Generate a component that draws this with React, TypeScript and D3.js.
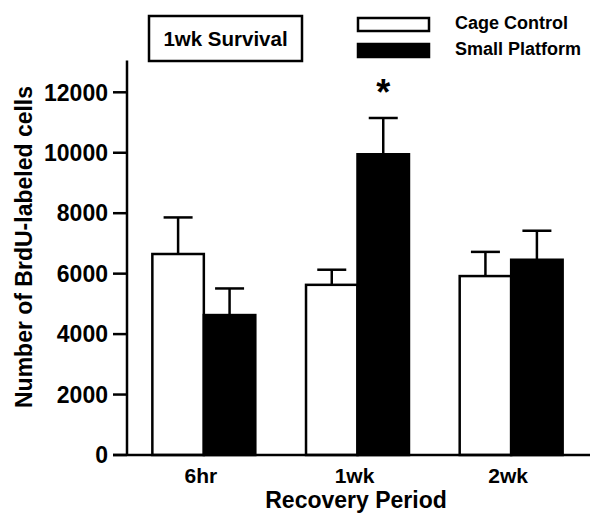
import { useRef, useEffect } from "react";
import * as d3 from "d3";

const periods = ["6hr", "1wk", "2wk"];
const seriesNames = ["Cage Control", "Small Platform"];
const cageMeans = [6650, 5630, 5920];
const cageSem = [1210, 500, 800];
const platformMeans = [4630, 9950, 6460];
const platformSem = [880, 1200, 960];
const yTicks = [0, 2000, 4000, 6000, 8000, 10000, 12000];
const significant = [false, true, false];

const FONT = "'Liberation Sans', Arial, Helvetica, sans-serif";
const W = 590;
const H = 513;

export default function App() {
  const svgRef = useRef<SVGSVGElement>(null);

  useEffect(() => {
    if (!svgRef.current) return;
    const svg = d3.select(svgRef.current);
    svg.selectAll("*").remove();

    const axisX = 127;
    const baseY = 455;

    const y = d3.scaleLinear().domain([0, 12000]).range([baseY, 92.3]);
    const x0 = d3.scaleBand().domain(periods).range([axisX, 588]).paddingInner(0.33).paddingOuter(0.165);
    const x1 = d3.scaleBand().domain(seriesNames).range([0, x0.bandwidth()]);

    const rows = periods.map((p, i) => ({
      period: p,
      bars: [
        { name: seriesNames[0], mean: cageMeans[i], sem: cageSem[i], fill: "#ffffff" },
        { name: seriesNames[1], mean: platformMeans[i], sem: platformSem[i], fill: "#000000" },
      ],
      sig: significant[i],
    }));

    const g = svg.append("g");

    // bars + error bars (upper only)
    rows.forEach((row) => {
      const gx = x0(row.period)!;
      row.bars.forEach((b) => {
        const bx = gx + x1(b.name)!;
        const cx = bx + x1.bandwidth() / 2;
        const top = y(b.mean + b.sem);
        g.append("line")
          .attr("x1", cx).attr("x2", cx)
          .attr("y1", y(b.mean)).attr("y2", top)
          .attr("stroke", "#000").attr("stroke-width", 2.5);
        g.append("line")
          .attr("x1", cx - 14.5).attr("x2", cx + 14.5)
          .attr("y1", top).attr("y2", top)
          .attr("stroke", "#000").attr("stroke-width", 2.5);
        g.append("rect")
          .attr("x", bx).attr("y", y(b.mean))
          .attr("width", x1.bandwidth()).attr("height", baseY - y(b.mean))
          .attr("fill", b.fill).attr("stroke", "#000").attr("stroke-width", 2.5);
      });
      if (row.sig) {
        const b = row.bars[1];
        g.append("text")
          .attr("x", gx + x1(b.name)! + x1.bandwidth() / 2)
          .attr("y", y(b.mean + b.sem) - 13)
          .attr("text-anchor", "middle")
          .attr("font-family", FONT).attr("font-weight", "bold").attr("font-size", "36px")
          .text("*");
      }
    });

    // y axis
    g.append("line")
      .attr("x1", axisX).attr("x2", axisX)
      .attr("y1", baseY).attr("y2", y(13050))
      .attr("stroke", "#000").attr("stroke-width", 2.5);
    yTicks.forEach((t) => {
      g.append("line")
        .attr("x1", axisX - 14).attr("x2", axisX)
        .attr("y1", y(t)).attr("y2", y(t))
        .attr("stroke", "#000").attr("stroke-width", 2.5);
      g.append("text")
        .attr("x", 108).attr("y", y(t)).attr("dy", "0.36em")
        .attr("text-anchor", "end")
        .attr("font-family", FONT).attr("font-weight", "bold").attr("font-size", "23px")
        .text(String(t));
    });

    // x axis
    g.append("line")
      .attr("x1", axisX - 14).attr("x2", W)
      .attr("y1", baseY).attr("y2", baseY)
      .attr("stroke", "#000").attr("stroke-width", 2.5);
    periods.forEach((p) => {
      g.append("text")
        .attr("x", x0(p)! + x0.bandwidth() / 2 - 3).attr("y", 483)
        .attr("text-anchor", "middle")
        .attr("font-family", FONT).attr("font-weight", "bold").attr("font-size", "21px")
        .text(p);
    });
    g.append("text")
      .attr("x", 356).attr("y", 508)
      .attr("text-anchor", "middle")
      .attr("font-family", FONT).attr("font-weight", "bold").attr("font-size", "23px")
      .text("Recovery Period");

    g.append("text")
      .attr("transform", "translate(32,247) rotate(-90)")
      .attr("text-anchor", "middle")
      .attr("font-family", FONT).attr("font-weight", "bold").attr("font-size", "23px")
      .text("Number of BrdU-labeled cells");

    // title box
    g.append("rect")
      .attr("x", 149).attr("y", 16).attr("width", 153).attr("height", 45)
      .attr("fill", "#fff").attr("stroke", "#000").attr("stroke-width", 2.5);
    g.append("text")
      .attr("x", 225.5).attr("y", 46)
      .attr("text-anchor", "middle")
      .attr("font-family", FONT).attr("font-weight", "bold").attr("font-size", "20.5px")
      .text("1wk Survival");

    // legend
    const legendFill = ["#ffffff", "#000000"];
    const legendY = [18, 44];
    seriesNames.forEach((name, i) => {
      g.append("rect")
        .attr("x", 358).attr("y", legendY[i]).attr("width", 71).attr("height", 13)
        .attr("fill", legendFill[i]).attr("stroke", "#000").attr("stroke-width", 2.5);
      g.append("text")
        .attr("x", 455).attr("y", legendY[i] + 10.5)
        .attr("font-family", FONT).attr("font-weight", "bold").attr("font-size", "18px")
        .text(name);
    });
  }, []);

  return (
    <div style={{ position: "absolute", left: 0, top: 0, width: W, height: H, background: "#fff" }}>
      <svg ref={svgRef} width={W} height={H} />
    </div>
  );
}
